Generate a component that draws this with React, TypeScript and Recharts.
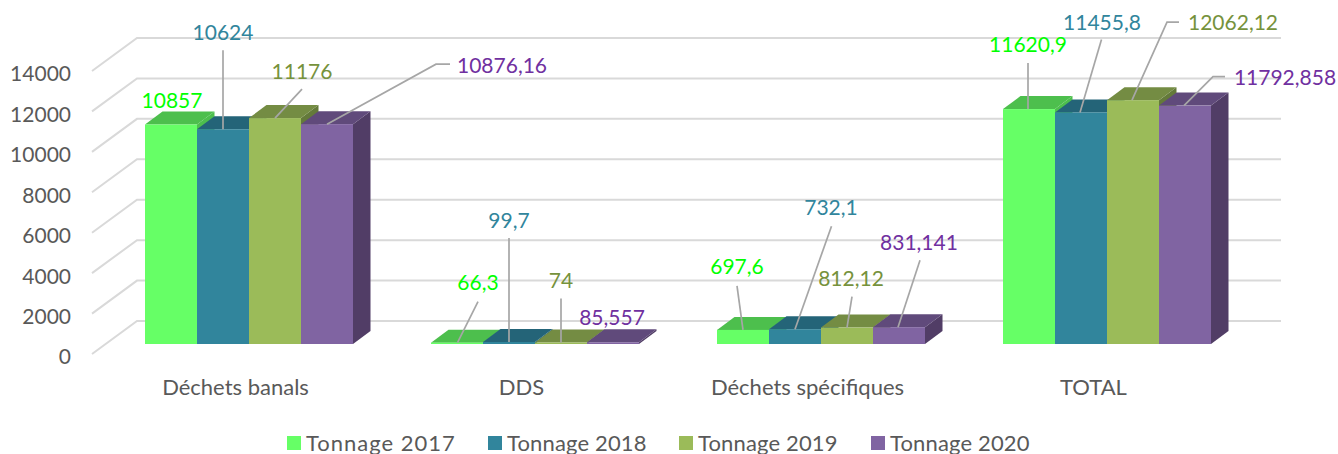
import { Bar, BarChart, CartesianGrid, LabelList, Legend, XAxis, YAxis } from "recharts";

const categories = ["Déchets banals", "DDS", "Déchets spécifiques", "TOTAL"];
const tonnage2017 = [10857, 66.3, 697.6, 11620.9];
const tonnage2018 = [10624, 99.7, 732.1, 11455.8];
const tonnage2019 = [11176, 74, 812.12, 12062.12];
const tonnage2020 = [10876.16, 85.557, 831.141, 11792.858];
const yTicks = [0, 2000, 4000, 6000, 8000, 10000, 12000, 14000];

const chartData = categories.map((name, i) => ({
  name,
  t2017: tonnage2017[i],
  t2018: tonnage2018[i],
  t2019: tonnage2019[i],
  t2020: tonnage2020[i],
}));

const FONT = "Lato, sans-serif";
const TEXT_GREY = "#595959";
const DEPTH_X = 17.5;
const DEPTH_Y = 13;

interface LabelSpot {
  dx: number;
  dy: number;
  leader?: number[][];
}

// label offsets from the centre of each bar top, with the leader line when there is one
const labels2017: LabelSpot[] = [
  { dx: 1, dy: -25 },
  { dx: 21, dy: -61, leader: [[0.5, 0], [21, -41]] },
  { dx: -6, dy: -64, leader: [[0, 0], [-6, -44]] },
  { dx: -1, dy: -66, leader: [[-1, 0], [-1, -46]] },
];
const labels2018: LabelSpot[] = [
  { dx: 0, dy: -98, leader: [[0, 0], [0, -79]] },
  { dx: 0, dy: -122, leader: [[0, 0], [0, -104]] },
  { dx: 36, dy: -123, leader: [[0, 0], [36.5, -103]] },
  { dx: 21, dy: -91, leader: [[-1, 0], [20.5, -73]] },
];
const labels2019: LabelSpot[] = [
  { dx: 27, dy: -48, leader: [[0, 0], [27, -29]] },
  { dx: 0, dy: -63, leader: [[0, 0], [0, -44]] },
  { dx: 4, dy: -50, leader: [[0, 0], [5, -31]] },
  { dx: 100, dy: -79, leader: [[-1, 0], [34, -78], [46, -78]] },
];
const labels2020: LabelSpot[] = [
  { dx: 175, dy: -60, leader: [[0, 0], [109, -60], [123, -60]] },
  { dx: -1, dy: -26 },
  { dx: 20, dy: -86, leader: [[-1, 0], [21, -67]] },
  { dx: 100, dy: -29, leader: [[-1, 0], [28, -29], [40, -29]] },
];

const makeBar3D = (topColor: string, sideColor: string) => (props: any) => {
  const { x, y, width, height, fill } = props;
  const right = x + width;
  const bottom = y + height;
  return (
    <g>
      <path
        d={`M${right},${y} L${right + DEPTH_X},${y - DEPTH_Y} L${right + DEPTH_X},${bottom - DEPTH_Y} L${right},${bottom} Z`}
        fill={sideColor}
      />
      <path
        d={`M${x},${y} L${x + DEPTH_X},${y - DEPTH_Y} L${right + DEPTH_X},${y - DEPTH_Y} L${right},${y} Z`}
        fill={topColor}
      />
      <rect x={x} y={y} width={width} height={height} fill={fill} />
    </g>
  );
};

const makeLabel = (spots: LabelSpot[], color: string) => (props: any) => {
  const box = props.viewBox ?? props;
  const spot = spots[props.index];
  const cx = box.x + box.width / 2;
  const top = box.y;
  return (
    <g>
      {spot.leader && (
        <polyline
          points={spot.leader.map(([a, b]) => `${cx + a},${top + b}`).join(" ")}
          fill="none"
          stroke="#A6A6A6"
          strokeWidth={1.7}
        />
      )}
      <text
        x={cx + spot.dx}
        y={top + spot.dy}
        textAnchor="middle"
        dominantBaseline="central"
        fill={color}
        style={{ fontFamily: FONT, fontSize: 21 }}
      >
        {String(props.value).replace(".", ",")}
      </text>
    </g>
  );
};

const gridLine = (props: any) => {
  const { x1, x2, y1, key } = props;
  return (
    <polyline
      key={key}
      points={`${x1 - 14},${y1 + 10} ${x1 + 31},${y1 - 23} ${x2 + 31},${y1 - 23}`}
      fill="none"
      stroke="#D9D9D9"
      strokeWidth={2}
    />
  );
};

const legendWidths = [201, 191, 192, 160];

const renderLegend = ({ payload }: any) => (
  <div style={{ display: "flex", height: 24, marginLeft: 287, fontFamily: FONT, fontSize: 22, lineHeight: "24px", letterSpacing: 0.15, color: TEXT_GREY }}>
    {(payload ?? []).map((entry: any, i: number) => (
      <div key={entry.value} style={{ width: legendWidths[i], flex: "none", display: "flex", alignItems: "center", whiteSpace: "nowrap" }}>
        <span style={{ width: 14, height: 14, background: entry.color, marginRight: 5 }} />
        <span style={i === 0 ? { letterSpacing: 1 } : undefined}>{entry.value}</span>
      </div>
    ))}
  </div>
);

export default function App() {
  return (
    <div style={{ position: "absolute", left: 0, top: 0 }}>
      <BarChart
        width={1338}
        height={454}
        data={chartData}
        barCategoryGap={39}
        barGap={0}
        margin={{ top: 61, right: 88, bottom: 26, left: 0 }}
      >
        <CartesianGrid vertical={false} horizontal={gridLine} />
        <XAxis
          dataKey="name"
          height={60}
          axisLine={false}
          tickLine={false}
          tickSize={0}
          tickMargin={35}
          tick={{ fill: TEXT_GREY, fontSize: 22, fontFamily: FONT, dx: -13.5 }}
        />
        <YAxis
          width={106}
          domain={[0, 14000]}
          ticks={yTicks}
          axisLine={false}
          tickLine={false}
          tickSize={0}
          tickMargin={35}
          tick={{ fill: TEXT_GREY, fontSize: 21, fontFamily: FONT, dy: 13 }}
        />
        <Legend
          height={24}
          content={renderLegend}
          wrapperStyle={{ left: 0, top: 431, bottom: "auto", width: 1338 }}
        />
        <Bar dataKey="t2017" name="Tonnage 2017" fill="#66FF66" shape={makeBar3D("#4DBF4D", "#4DBF4D")} isAnimationActive={false}>
          <LabelList dataKey="t2017" content={makeLabel(labels2017, "#00FF00")} />
        </Bar>
        <Bar dataKey="t2018" name="Tonnage 2018" fill="#31859C" shape={makeBar3D("#246478", "#246478")} isAnimationActive={false}>
          <LabelList dataKey="t2018" content={makeLabel(labels2018, "#31859C")} />
        </Bar>
        <Bar dataKey="t2019" name="Tonnage 2019" fill="#9BBB59" shape={makeBar3D("#748C43", "#647A3A")} isAnimationActive={false}>
          <LabelList dataKey="t2019" content={makeLabel(labels2019, "#76923C")} />
        </Bar>
        <Bar dataKey="t2020" name="Tonnage 2020" fill="#8064A2" shape={makeBar3D("#604A7B", "#513D66")} isAnimationActive={false}>
          <LabelList dataKey="t2020" content={makeLabel(labels2020, "#7030A0")} />
        </Bar>
      </BarChart>
    </div>
  );
}
